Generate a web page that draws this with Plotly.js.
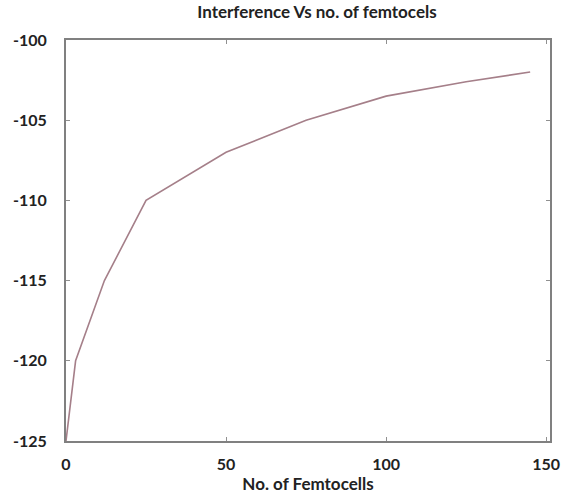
<!DOCTYPE html>
<html>
<head>
<meta charset="utf-8">
<script src="https://cdn.plot.ly/plotly-3.0.1.min.js"></script>
<style>html,body{margin:0;padding:0;background:#fff;}</style>
</head>
<body>
<div id="chart" style="width:563px;height:497px;"></div>
<script>
const femtocells = [0, 3, 12, 25, 50, 75, 100, 125, 145];
const interference = [-125, -120, -115, -110, -107, -105, -103.5, -102.6, -102];
const xTicks = [0, 50, 100, 150];
const yTicks = [-125, -120, -115, -110, -105, -100];
const yTickLabels = ['-125', '-120', '-115', '-110', '-105', '-100'];

const font = "Lato, 'Open Sans', sans-serif";
const axisCommon = {
  showline: true, linecolor: '#808080', linewidth: 2, mirror: 'ticks',
  ticks: 'inside', ticklen: 4, tickcolor: '#909090', tickwidth: 1,
  showgrid: false, zeroline: false,
  tickfont: {family: font, size: 16, color: '#222', weight: 'bold'}
};
Plotly.newPlot('chart', [{
  x: femtocells, y: interference, type: 'scatter', mode: 'lines',
  line: {color: '#a57f89', width: 1.6, shape: 'linear'}, hoverinfo: 'skip'
}], {
  width: 563, height: 497,
  margin: {l: 66, r: 13, t: 40, b: 56},
  paper_bgcolor: '#fff', plot_bgcolor: '#fff',
  showlegend: false,
  title: {text: 'Interference Vs no. of femtocels', x: 0.563, xanchor: 'center', y: 0.975, yanchor: 'middle',
    font: {family: font, size: 17, color: '#222', weight: 'bold'}},
  xaxis: Object.assign({}, axisCommon, {range: [0, 151.2], tickvals: xTicks, ticklabelstandoff: 8,
    title: {text: 'No. of Femtocells', standoff: 6, font: {family: font, size: 17, color: '#222', weight: 'bold'}}}),
  yaxis: Object.assign({}, axisCommon, {range: [-125, -100], tickvals: yTicks, ticktext: yTickLabels, ticklabelstandoff: 14})
}, {displayModeBar: false, staticPlot: true});
</script>
</body>
</html>
